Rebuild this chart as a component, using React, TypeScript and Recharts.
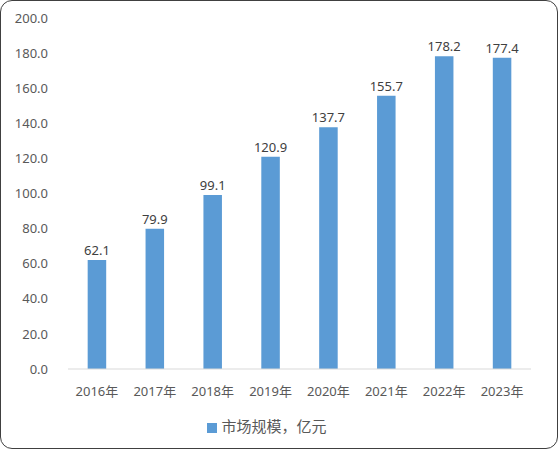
import React from 'react';
import { BarChart, Bar, XAxis, YAxis, Legend, LabelList } from 'recharts';

const years = ['2016年', '2017年', '2018年', '2019年', '2020年', '2021年', '2022年', '2023年'];
const marketSize = [62.1, 79.9, 99.1, 120.9, 137.7, 155.7, 178.2, 177.4];
const yTicks = [0, 20, 40, 60, 80, 100, 120, 140, 160, 180, 200];

const data = years.map((year, i) => ({ year, value: marketSize[i] }));

const font = "'Noto Sans', 'Noto Sans CJK SC', sans-serif";

export default function App() {
  return (
    <div style={{ position: 'absolute', left: 0, top: 0 }}>
      <style>{'body{margin:0}'}</style>
      <div
        style={{
          width: 556,
          height: 447,
          border: '1.5px solid #404040',
          borderRadius: 12,
          background: '#fff',
          fontFamily: font,
        }}
      >
        <BarChart
          width={556}
          height={447}
          data={data}
          margin={{ top: 17, right: 26, left: 0, bottom: 20 }}
          barCategoryGap="66%"
        >
          <XAxis
            dataKey="year"
            axisLine={{ stroke: '#d9d9d9' }}
            tickLine={false}
            tick={{ fill: '#595959', fontSize: 13, fontFamily: font }}
            tickMargin={12}
            height={38}
          />
          <YAxis
            domain={[0, 200]}
            ticks={yTicks}
            axisLine={false}
            tickLine={false}
            tick={{ fill: '#595959', fontSize: 13, fontFamily: font }}
            tickFormatter={(v: number) => v.toFixed(1)}
            width={67}
            tickMargin={14}
          />
          <Legend
            verticalAlign="bottom"
            iconType="square"
            iconSize={10}
            wrapperStyle={{ fontSize: 15, fontFamily: font, color: '#595959', bottom: 12, left: 6 }}
            formatter={(v: string) => <span style={{ color: '#595959' }}>{v}</span>}
          />
          <Bar dataKey="value" name="市场规模，亿元" fill="#5b9bd5" isAnimationActive={false}>
            <LabelList
              dataKey="value"
              position="top"
              fill="#404040"
              fontSize={13}
              fontFamily={font}
              formatter={(v: number) => v.toFixed(1)}
            />
          </Bar>
        </BarChart>
      </div>
    </div>
  );
}
